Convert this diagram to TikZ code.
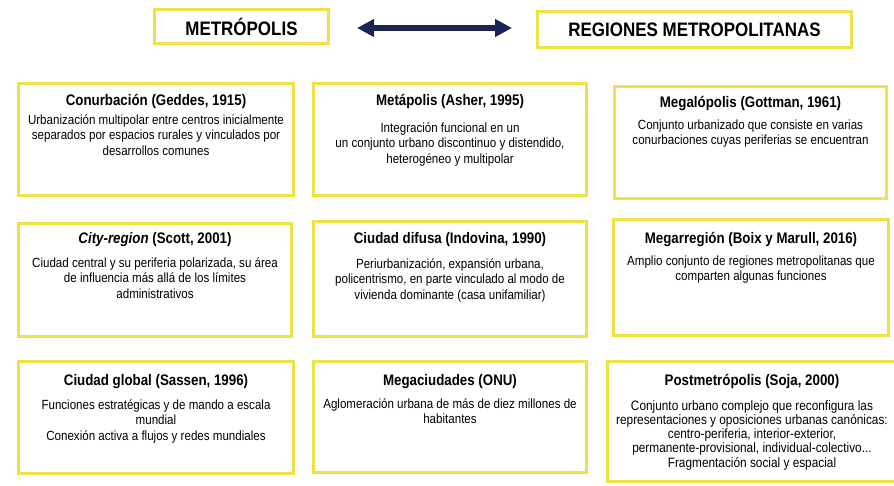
\documentclass[tikz,border=0pt]{standalone}
\usepackage{fontspec}
\setmainfont{Liberation Sans}[FakeStretch=0.87]
\usetikzlibrary{arrows.meta,positioning}
\definecolor{amarillo}{RGB}{238,226,72}
\definecolor{azulflecha}{RGB}{27,35,87}

\tikzset{
  caja/.style={draw=amarillo, line width=3pt, fill=white, inner sep=0pt},
  cabecera/.style={caja, font=\fontsize{19.5}{22}\selectfont\bfseries},
  titulo/.style={font=\fontsize{15.3}{18}\selectfont\bfseries, inner sep=0pt, anchor=base},
  texto/.style={font=\fontsize{13.3}{15.5}\selectfont, align=center, inner sep=0pt, anchor=north},
  flecha/.style={line width=6pt, azulflecha, {Triangle[length=17pt,width=17pt]}-{Triangle[length=17pt,width=17pt]}},
}
\newcommand{\alto}{\rule{0pt}{12pt}}

\begin{document}
\begin{tikzpicture}[x=1pt,y=-1pt]
            \useasboundingbox (0,0) rectangle (894,485);
            \clip (0,0) rectangle (894,485);
            % cabeceras
            \node[cabecera, minimum width=174pt, minimum height=34pt] (metro) at (241.5,26.5) {METRÓPOLIS};
            \node[cabecera, minimum width=314pt, minimum height=36pt] (regiones) at (694.5,29.5) {REGIONES METROPOLITANAS};
            \draw[flecha, shorten <=27pt, shorten >=24pt] ([yshift=-1.5pt]metro.east) -- ([yshift=-1.5pt]metro.east -| regiones.west);
            % fila 1
            \node[caja, minimum width=275pt, minimum height=112pt] (conurb) at (156,139.5) {};
            \node[titulo] (conurbT) at (156,105) {Conurbación (Geddes, 1915)};
            \node[texto] (conurbX) at (156,112) {\alto Urbanización multipolar entre centros inicialmente\\separados por espacios rurales y vinculados por\\desarrollos comunes};
            \node[caja, minimum width=273pt, minimum height=112pt] (metap) at (450,139.5) {};
            \node[titulo] (metapT) at (450,105) {Metápolis (Asher, 1995)};
            \node[texto] (metapX) at (450,120) {\alto Integración funcional en un\\un conjunto urbano discontinuo y distendido,\\heterogéneo y multipolar};
            \node[caja, minimum width=272pt, minimum height=112pt] (megal) at (750.5,142.5) {};
            \node[titulo] (megalT) at (750.5,107) {Megalópolis (Gottman, 1961)};
            \node[texto] (megalX) at (750.5,117) {\alto Conjunto urbanizado que consiste en varias\\conurbaciones cuyas periferias se encuentran};
            % fila 2
            \node[caja, minimum width=273pt, minimum height=113pt] (cityreg) at (155,280) {};
            \node[titulo] (cityregT) at (155,243) {\textit{City-region} (Scott, 2001)};
            \node[texto] (cityregX) at (155,255) {\alto Ciudad central y su periferia polarizada, su área\\de influencia más allá de los límites\\administrativos};
            \node[caja, minimum width=273pt, minimum height=115pt] (difusa) at (450,279) {};
            \node[titulo] (difusaT) at (450,243) {Ciudad difusa (Indovina, 1990)};
            \node[texto] (difusaX) at (450,256) {\alto Periurbanización, expansión urbana,\\policentrismo, en parte vinculado al modo de\\vivienda dominante (casa unifamiliar)};
            \node[caja, minimum width=275pt, minimum height=116pt] (megarreg) at (751,277.5) {};
            \node[titulo] (megarregT) at (751,243) {Megarregión (Boix y Marull, 2016)};
            \node[texto] (megarregX) at (751,253) {\alto Amplio conjunto de regiones metropolitanas que\\comparten algunas funciones};
            % fila 3
            \node[caja, minimum width=275pt, minimum height=112pt] (global) at (156,417.5) {};
            \node[titulo] (globalT) at (156,385) {Ciudad global (Sassen, 1996)};
            \node[texto] (globalX) at (156,397) {\alto Funciones estratégicas y de mando a escala\\mundial\\Conexión activa a flujos y redes mundiales};
            \node[caja, minimum width=273pt, minimum height=111pt] (megac) at (450,417) {};
            \node[titulo] (megacT) at (450,385) {Megaciudades (ONU)};
            \node[texto] (megacX) at (450,396) {\alto Aglomeración urbana de más de diez millones de\\habitantes};
            \node[caja, minimum width=300pt, minimum height=120pt] (postm) at (757,421.5) {};
            \node[titulo] (postmT) at (752,385) {Postmetrópolis (Soja, 2000)};
            \node[texto, font=\fontsize{13.6}{14.2}\selectfont] (postmX) at (752,398) {\alto Conjunto urbano complejo que reconfigura las\\representaciones y oposiciones urbanas canónicas:\\centro-periferia, interior-exterior,\\permanente-provisional, individual-colectivo...\\Fragmentación social y espacial};
        \end{tikzpicture}
\end{document}
